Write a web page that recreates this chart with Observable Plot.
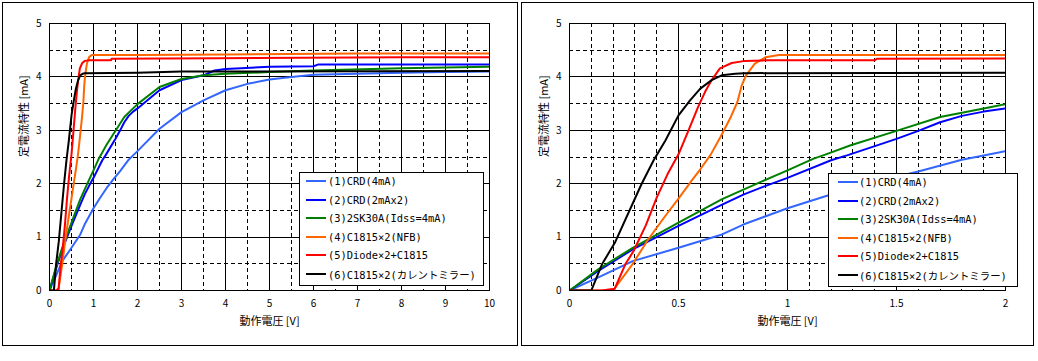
<!DOCTYPE html>
<html><head><meta charset="utf-8">
<script src="https://cdn.jsdelivr.net/npm/d3@7"></script>
<script src="https://cdn.jsdelivr.net/npm/@observablehq/plot@0.6"></script>
<style>
html,body{margin:0;padding:0;background:#fff;}
body{width:1038px;height:361px;position:relative;overflow:hidden;font-family:"Noto Sans CJK JP","Noto Sans",sans-serif;color:#000;}
.panel{position:absolute;border:1px solid #000;box-sizing:border-box;}
.chart{position:absolute;}
.legend{position:absolute;background:#fff;border:1px solid #000;box-sizing:border-box;font-size:10.4px;font-family:"DejaVu Sans Mono","Noto Sans CJK JP",monospace;}
.row{position:absolute;left:0;height:18px;display:flex;align-items:center;white-space:nowrap;}
.swatch{height:2px;width:20px;}
</style></head><body>
<script>
// ---- data ----
const seriesNames = ["(1)CRD(4mA)", "(2)CRD(2mAx2)", "(3)2SK30A(Idss=4mA)", "(4)C1815×2(NFB)", "(5)Diode×2+C1815", "(6)C1815×2(カレントミラー)"];
const seriesColors = ["#3366ff", "#0000ff", "#008000", "#ff6600", "#ff0000", "#000000"];

const s1V = [0, 0.13, 0.29, 0.5, 0.7, 0.8, 0.9, 1.0, 1.17, 1.3, 1.45, 1.6, 1.8, 1.9, 2.0, 2.5, 3.0, 3.5, 4.0, 4.5, 5.0, 5.5, 6.0, 7.0, 8.0, 9.0, 10.0];
const s1I = [0, 0.24, 0.55, 0.8, 1.05, 1.24, 1.39, 1.54, 1.76, 1.92, 2.08, 2.23, 2.45, 2.53, 2.61, 3.03, 3.34, 3.56, 3.75, 3.87, 3.95, 4.0, 4.04, 4.06, 4.08, 4.09, 4.1];

const s2V = [0, 0.13, 0.29, 0.5, 0.7, 0.8, 0.9, 1.0, 1.2, 1.28, 1.5, 1.6, 1.7, 1.8, 1.9, 2.0, 2.5, 3.0, 3.5, 3.75, 4.0, 5.0, 6.0, 6.1, 10.0];
const s2I = [0, 0.36, 0.77, 1.21, 1.61, 1.8, 1.96, 2.11, 2.44, 2.54, 2.84, 2.99, 3.15, 3.27, 3.35, 3.41, 3.75, 3.94, 4.03, 4.12, 4.15, 4.19, 4.2, 4.23, 4.23];

const s3V = [0, 0.13, 0.29, 0.5, 0.7, 0.87, 1.0, 1.12, 1.17, 1.29, 1.5, 1.7, 1.9, 2.0, 2.5, 3.0, 3.5, 4.0, 5.0, 6.0, 8.0, 10.0];
const s3I = [0, 0.39, 0.8, 1.27, 1.71, 2.02, 2.25, 2.47, 2.54, 2.72, 2.99, 3.25, 3.41, 3.49, 3.81, 3.96, 4.03, 4.06, 4.09, 4.12, 4.16, 4.19];

const s4V = [0, 0.2, 0.29, 0.36, 0.44, 0.5, 0.563, 0.6, 0.647, 0.693, 0.74, 0.77, 0.79, 0.81, 0.85, 0.9, 0.96, 2.0, 4.0, 7.0, 10.0];
const s4I = [0, 0, 0.5, 0.95, 1.4, 1.72, 2.07, 2.27, 2.54, 2.88, 3.25, 3.53, 3.84, 4.03, 4.25, 4.37, 4.41, 4.41, 4.42, 4.44, 4.44];

const s5V = [0, 0.15, 0.18, 0.2, 0.207, 0.256, 0.294, 0.35, 0.4, 0.45, 0.5, 0.546, 0.59, 0.622, 0.652, 0.69, 0.744, 0.805, 0.9, 1.4, 1.41, 3.8, 8.0, 10.0];
const s5I = [0, 0, 0.02, 0.03, 0.03, 0.49, 0.74, 1.22, 1.74, 2.18, 2.55, 3.0, 3.44, 3.72, 3.94, 4.16, 4.26, 4.3, 4.31, 4.31, 4.34, 4.35, 4.37, 4.37];

const s6V = [0, 0.1, 0.149, 0.21, 0.33, 0.386, 0.44, 0.5, 0.553, 0.6, 0.652, 0.698, 0.76, 0.8, 2.0, 3.0, 10.0];
const s6I = [0, 0, 0.49, 0.91, 1.99, 2.44, 2.81, 3.28, 3.56, 3.78, 3.94, 4.03, 4.06, 4.07, 4.08, 4.1, 4.11];

const yMajorTicks = [0, 1, 2, 3, 4, 5];
const yMinorTicks = [0.5, 1.5, 2.5, 3.5, 4.5];
const leftXMajor = [0, 1, 2, 3, 4, 5, 6, 7, 8, 9, 10];
const leftXMinor = [0.5, 1.5, 2.5, 3.5, 4.5, 5.5, 6.5, 7.5, 8.5, 9.5];
const rightXMajor = [0, 0.5, 1, 1.5, 2];
const rightXMinor = [0.1, 0.2, 0.3, 0.4, 0.6, 0.7, 0.8, 0.9, 1.1, 1.2, 1.3, 1.4, 1.6, 1.7, 1.8, 1.9];
const xTitle = "動作電圧 [V]";
const yTitle = "定電流特性 [mA]";

// ---- build table ----
const allV = [s1V, s2V, s3V, s4V, s5V, s6V];
const allI = [s1I, s2I, s3I, s4I, s5I, s6I];
const rows = [];
allV.forEach((vs, k) => vs.forEach((v, j) => rows.push({series: seriesNames[k], V: v, I: allI[k][j]})));

const FONT = '"Noto Sans CJK JP","Noto Sans",sans-serif';

function makeChart({width, height, marginLeft, marginRight, xDomain, xMajor, xMinor}) {
  return Plot.plot({
    width, height, marginLeft, marginRight, marginTop: 20, marginBottom: 55,
    style: {fontFamily: FONT, fontSize: "10px", color: "#000", background: "#fff"},
    x: {domain: xDomain, ticks: xMajor, tickSize: 0, tickPadding: 9, label: null, tickFormat: d => String(d)},
    y: {domain: [0, 5], ticks: yMajorTicks, tickSize: 0, tickPadding: 8, label: null, tickFormat: d => String(d)},
    color: {domain: seriesNames, range: seriesColors},
    marks: [
      Plot.ruleX(xMinor, {stroke: "#000", strokeDasharray: "4,3", shapeRendering: "crispEdges"}),
      Plot.ruleY(yMinorTicks, {stroke: "#000", strokeDasharray: "4,3", shapeRendering: "crispEdges"}),
      Plot.ruleX(xMajor, {stroke: "#000", shapeRendering: "crispEdges"}),
      Plot.ruleY(yMajorTicks, {stroke: "#000", shapeRendering: "crispEdges"}),
      Plot.line(rows, {x: "V", y: "I", z: "series", stroke: "series", strokeWidth: 2, clip: true, strokeLinejoin: "round"}),
      Plot.frame({stroke: "#000", shapeRendering: "crispEdges"}),
      Plot.text([xTitle], {text: d => d, frameAnchor: "bottom", dy: 34, fontSize: 11}),
      Plot.text([yTitle], {text: d => d, frameAnchor: "left", dx: -25, rotate: -90, fontSize: 11})
    ]
  });
}

function addPanel(bx, by, bw, bh, chart) {
  const p = document.createElement("div");
  p.className = "panel";
  Object.assign(p.style, {left: bx + "px", top: by + "px", width: bw + "px", height: bh + "px"});
  document.body.appendChild(p);
  chart.classList.add("chart");
  chart.style.left = (bx + 1) + "px";
  chart.style.top = (by + 1) + "px";
  document.body.appendChild(chart);
}

function addLegend(lx, ly, lw, lh, swOff, txtOff) {
  const lg = document.createElement("div");
  lg.className = "legend";
  Object.assign(lg.style, {left: lx + "px", top: ly + "px", width: lw + "px", height: lh + "px"});
  seriesNames.forEach((name, i) => {
    const r = document.createElement("div");
    r.className = "row";
    r.style.top = (-1 + i * 18.6) + "px";
    const sw = document.createElement("div");
    sw.className = "swatch";
    sw.style.background = seriesColors[i];
    sw.style.marginLeft = swOff + "px";
    const t = document.createElement("span");
    t.textContent = name;
    t.style.marginLeft = (txtOff - swOff - 20) + "px";
    r.appendChild(sw); r.appendChild(t);
    lg.appendChild(r);
  });
  document.body.appendChild(lg);
}

addPanel(2, 2, 516, 344, makeChart({width: 514, height: 342, marginLeft: 46, marginRight: 28, xDomain: [0, 10], xMajor: leftXMajor, xMinor: leftXMinor}));
addPanel(521, 2, 513, 344, makeChart({width: 511, height: 342, marginLeft: 47, marginRight: 28, xDomain: [0, 2], xMajor: rightXMajor, xMinor: rightXMinor}));
addLegend(299, 172, 185, 114, 6, 28);
addLegend(828, 173, 190, 114, 9, 30);
</script>
</body></html>
